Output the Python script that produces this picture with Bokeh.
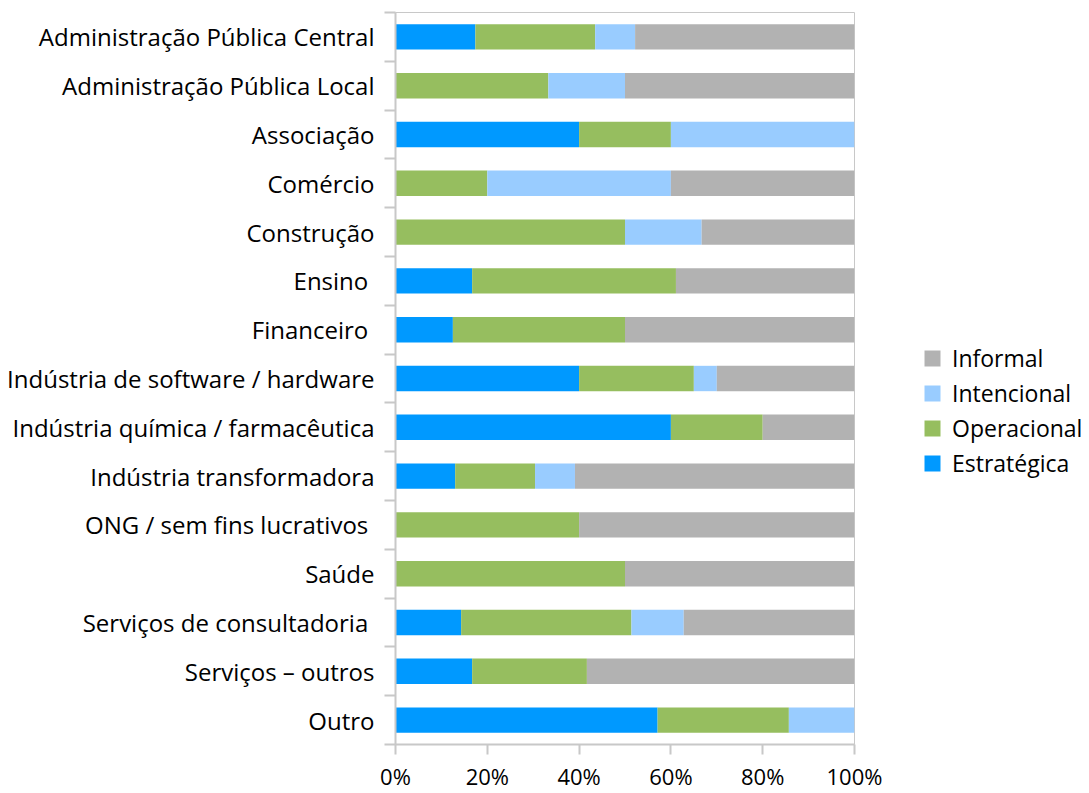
from bokeh.plotting import figure
from bokeh.layouts import row
from bokeh.models import (ColumnDataSource, FactorRange, Range1d, LinearAxis, CategoricalAxis,
                          FixedTicker, PrintfTickFormatter, Legend, LegendItem)
from bokeh.embed import file_html
from bokeh.resources import INLINE

categories = [
    "Administração Pública Central",
    "Administração Pública Local",
    "Associação",
    "Comércio",
    "Construção",
    "Ensino ",
    "Financeiro ",
    "Indústria de software / hardware",
    "Indústria química / farmacêutica",
    "Indústria transformadora",
    "ONG / sem fins lucrativos ",
    "Saúde",
    "Serviços de consultadoria ",
    "Serviços – outros",
    "Outro",
]
estrategica = [17.4, 0, 40, 0, 0, 16.7, 12.5, 40, 60, 13.0, 0, 0, 14.3, 16.7, 57.1]
operacional = [26.1, 33.3, 20, 20, 50, 44.4, 37.5, 25, 20, 17.4, 40, 50, 37.1, 25, 28.6]
intencional = [8.7, 16.7, 40, 40, 16.7, 0, 0, 5, 0, 8.7, 0, 0, 11.4, 0, 14.3]
informal = [47.8, 50, 0, 40, 33.3, 38.9, 50, 30, 20, 60.9, 60, 50, 37.2, 58.3, 0]

series = ["Estratégica", "Operacional", "Intencional", "Informal"]
colors = ["#0099FF", "#96BE5F", "#99CCFF", "#B2B2B2"]
x_ticks = [0, 20, 40, 60, 80, 100]

FONT = "Open Sans"
AX = "#C8C8C8"

source = ColumnDataSource(dict(cat=categories, Estratégica=estrategica, Operacional=operacional,
                               Intencional=intencional, Informal=informal))

p = figure(width=884, height=793, output_backend="svg", toolbar_location=None,
           y_range=FactorRange(*reversed(categories)), x_range=Range1d(0, 100),
           y_axis_location=None, min_border_left=395, min_border_top=12,
           min_border_right=30, min_border_bottom=45)

rs = p.hbar_stack(series, y="cat", height=0.52, color=colors, line_color=None, source=source)

p.grid.grid_line_color = None
p.outline_line_color = AX
p.outline_line_width = 1

# ticks between categories (synthetic coordinates of the factor range boundaries)
tick_axis = LinearAxis(ticker=FixedTicker(ticks=list(range(len(categories) + 1))),
                       formatter=PrintfTickFormatter(format=""),
                       major_tick_out=11, major_tick_in=0, minor_tick_line_color=None,
                       axis_line_color=AX, axis_line_width=2, major_tick_line_color=AX,
                       major_tick_line_width=2, major_label_standoff=0)
p.add_layout(tick_axis, "left")
cat_axis = CategoricalAxis(axis_line_color=None, major_tick_line_color=None,
                           minor_tick_line_color=None, major_label_standoff=4,
                           major_label_text_font=FONT, major_label_text_font_size="24px",
                           major_label_text_color="#000000")
p.add_layout(cat_axis, "left")

xa = p.xaxis[0]
xa.ticker = FixedTicker(ticks=x_ticks)
xa.formatter = PrintfTickFormatter(format="%d%%")
xa.major_tick_out = 10
xa.major_tick_in = 0
xa.minor_tick_line_color = None
xa.axis_line_color = AX
xa.axis_line_width = 2
xa.major_tick_line_color = AX
xa.major_tick_line_width = 2
xa.major_label_standoff = 6
xa.major_label_text_font = FONT
xa.major_label_text_font_size = "22px"
xa.major_label_text_color = "#000000"

# legend panel: a second figure whose x range keeps the same stacked bars far out of view
p2 = figure(width=205, height=793, output_backend="svg", toolbar_location=None,
            x_axis_location=None, y_axis_location=None, min_border=0,
            x_range=Range1d(-1001, -1000), y_range=FactorRange(*reversed(categories)))
p2.outline_line_color = None
p2.grid.grid_line_color = None
lr = p2.hbar_stack(series, y="cat", height=0.52, color=colors, line_color=None, source=source)
items = [LegendItem(label=s, renderers=[r]) for s, r in zip(series, lr)][::-1]
legend = Legend(items=items, location=(38, 265), border_line_color=None, background_fill_alpha=0,
                glyph_width=20, glyph_height=20, label_height=20, label_standoff=10, spacing=3,
                padding=0, margin=0, label_text_font=FONT, label_text_font_size="23px",
                label_text_color="#000000")
p2.add_layout(legend, "center")

layout = row(p, p2)
open("out.html", "w").write(file_html(layout, INLINE))
